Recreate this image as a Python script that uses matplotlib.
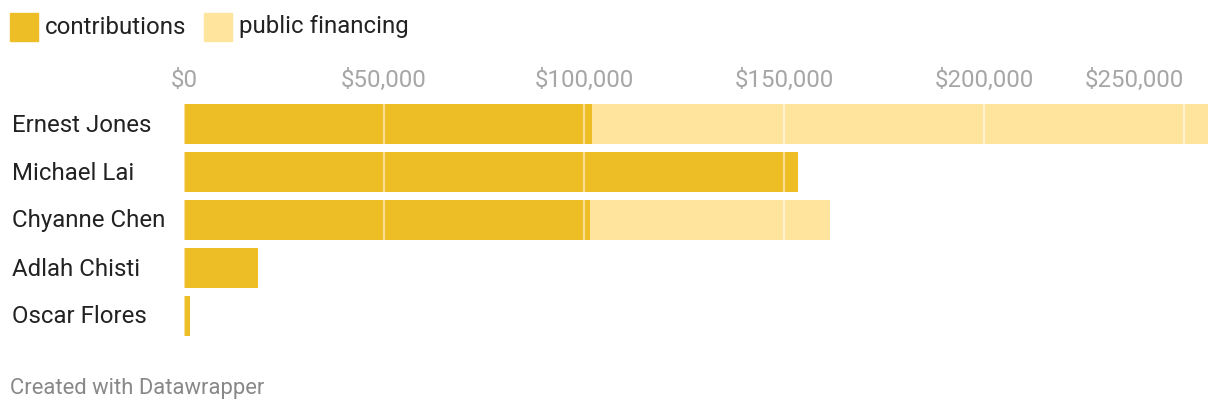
import matplotlib.pyplot as plt
from matplotlib.patches import Rectangle

plt.rcParams['font.family'] = ['Roboto', 'DejaVu Sans']

candidates = ["Ernest Jones", "Michael Lai", "Chyanne Chen", "Adlah Chisti", "Oscar Flores"]
contributions = [102000, 153500, 101500, 18500, 1500]
public_financing = [154000, 0, 60000, 0, 0]
ticks = [0, 50000, 100000, 150000, 200000, 250000]
tick_labels = ["$0", "$50,000", "$100,000", "$150,000", "$200,000", "$250,000"]

c_contrib = "#EEBE26"
c_public = "#FEE49C"

W, H = 1220, 414
fig = plt.figure(figsize=(W / 100, H / 100), dpi=100)
# axes: x 184 -> 1216 px, y 101 -> 341 px (from top)
ax = fig.add_axes([184 / W, 1 - 341 / H, (1216 - 184) / W, 240 / H])

y = list(range(len(candidates)))
ax.barh(y, contributions, height=40 / 48, color=c_contrib, zorder=1)
ax.barh(y, public_financing, left=contributions, height=40 / 48, color=c_public, zorder=1)

ax.set_xlim(0, 258000)
ax.set_ylim(4.5, -0.5)
for t in ticks:
    ax.axvline(t, color="white", alpha=0.5, lw=1.5, zorder=2)

ax.xaxis.tick_top()
ax.set_xticks(ticks)
ax.set_xticklabels(tick_labels, fontsize=17.3, color="#a6a6a6")
ax.get_xticklabels()[-1].set_ha("right")
ax.tick_params(axis="x", length=0, pad=6.5)
ax.set_yticks([])
for i, name in enumerate(candidates):
    fig.text(12 / W, 1 - (125 + 48 * i) / H, name, fontsize=17.3, color="#222222",
             ha="left", va="center")
for s in ax.spines.values():
    s.set_visible(False)

# legend
fig.patches.append(Rectangle((10 / W, 1 - 42 / H), 28 / W, 28 / H, transform=fig.transFigure,
                             color=c_contrib))
fig.text(45 / W, 1 - 27 / H, "contributions", fontsize=17.3, color="#222222", va="center")
fig.patches.append(Rectangle((204 / W, 1 - 42 / H), 28 / W, 28 / H, transform=fig.transFigure,
                             color=c_public))
fig.text(239 / W, 1 - 27 / H, "public financing", fontsize=17.3, color="#222222", va="center")

fig.text(10 / W, 1 - 389 / H, "Created with Datawrapper", fontsize=15.8, color="#888888", va="center")

fig.savefig("out.png", dpi=100)
